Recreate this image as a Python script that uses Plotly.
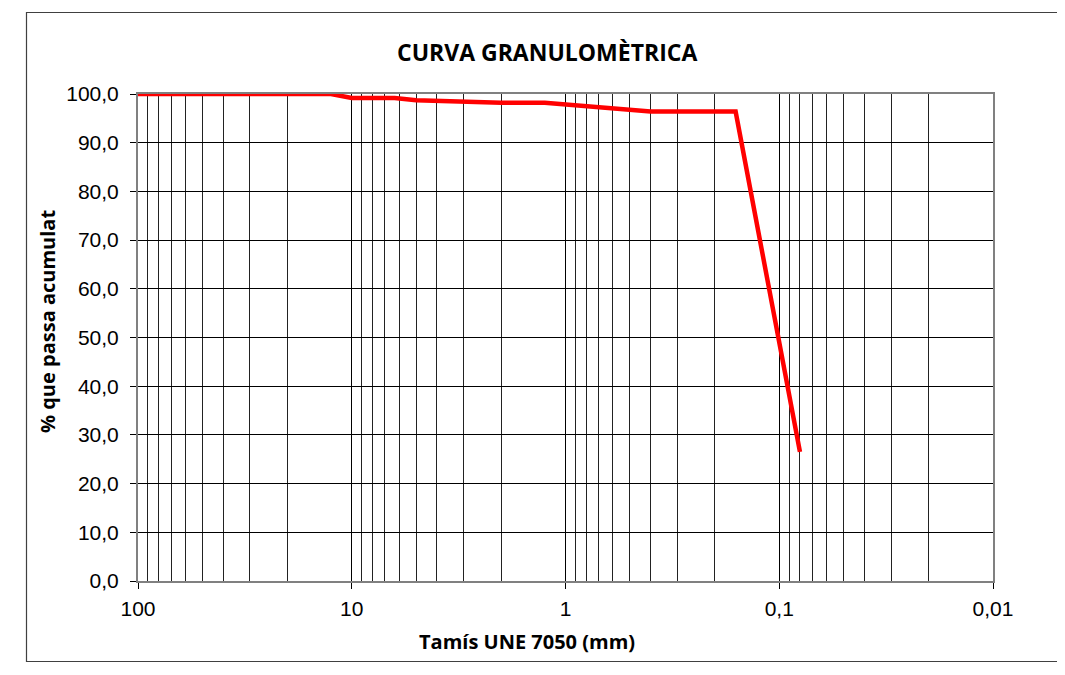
import plotly.graph_objects as go

# Sieve sizes (mm) and cumulative % passing
sieve_mm = [100, 80, 63, 50, 40, 25, 20, 12.5, 10, 6.3, 5, 2, 1.25, 0.63, 0.4, 0.16, 0.08]
passing = [100.0, 100.0, 100.0, 100.0, 100.0, 100.0, 100.0, 100.0, 99.2, 99.2, 98.7, 98.2, 98.2, 97.0, 96.4, 96.4, 26.5]

x_tick_vals = [100, 10, 1, 0.1, 0.01]
x_tick_text = ["100", "10", "1", "0,1", "0,01"]
y_tick_vals = [0, 10, 20, 30, 40, 50, 60, 70, 80, 90, 100]

title_text = "CURVA GRANULOMÈTRICA"
x_title = "Tamís UNE 7050 (mm)"
y_title = "% que passa acumulat"

OFF = 8  # page body margin offset
W, H = 1065 - OFF, 675 - OFF
L, R, T, B = 138 - OFF, 993 - OFF, 94 - OFF, 581 - OFF  # plot area pixel bounds

fig = go.Figure()
fig.add_trace(go.Scatter(
    x=sieve_mm, y=passing, mode="lines",
    line=dict(color="#FF0000", width=4.5),
    showlegend=False, hoverinfo="x+y",
))

label_font = dict(family="Liberation Sans, Arial", size=21, color="#000000")
title_font_family = "Open Sans, Lato, sans-serif"

fig.update_layout(
    width=W, height=H,
    margin=dict(l=L, r=W - R, t=T, b=H - B, pad=0),
    paper_bgcolor="white", plot_bgcolor="white",
    separators=",.",
    xaxis=dict(
        type="log", range=[2, -2], autorange=False,
        tickvals=x_tick_vals, ticktext=x_tick_text,
        tickfont=label_font, ticks="outside", ticklen=6, tickcolor="#000000",
        showgrid=True, gridcolor="#000000", gridwidth=1,
        minor=dict(showgrid=True, gridcolor="#222222", gridwidth=1, ticks="", dtick="D1"),
        showline=True, linecolor="#808080", linewidth=2, mirror=True,
        zeroline=False, ticklabelstandoff=2,
    ),
    yaxis=dict(
        range=[0, 100], autorange=False,
        tickvals=y_tick_vals, tickformat=".1f",
        tickfont=label_font, ticks="outside", ticklen=6, tickcolor="#000000",
        showgrid=True, gridcolor="#000000", gridwidth=1,
        showline=True, linecolor="#808080", linewidth=2, mirror=True,
        zeroline=False, ticklabelstandoff=7,
    ),
)

pw, ph = R - L, B - T
def px(xp):
    return (xp - OFF - L) / pw
def py(yp):
    return (B - (yp - OFF)) / ph

# Outer chart border
fig.add_shape(type="rect", xref="paper", yref="paper",
              x0=px(26.5), x1=px(1062.5), y0=py(661.5), y1=py(12.5),
              line=dict(color="#404040", width=1.2), fillcolor="rgba(0,0,0,0)", layer="below")

fig.add_annotation(text="<b>" + title_text + "</b>", xref="paper", yref="paper",
                   x=px(547), y=py(52), showarrow=False, xanchor="center", yanchor="middle",
                   font=dict(family=title_font_family, size=23, color="#000000"))
fig.add_annotation(text="<b>" + x_title + "</b>", xref="paper", yref="paper",
                   x=px(527), y=py(641), showarrow=False, xanchor="center", yanchor="middle",
                   font=dict(family=title_font_family, size=20, color="#000000"))
fig.add_annotation(text="<b>" + y_title + "</b>", xref="paper", yref="paper",
                   x=px(47), y=py(322), showarrow=False, xanchor="center", yanchor="middle",
                   textangle=-90,
                   font=dict(family=title_font_family, size=20, color="#000000"))

fig.write_html("out.html")
